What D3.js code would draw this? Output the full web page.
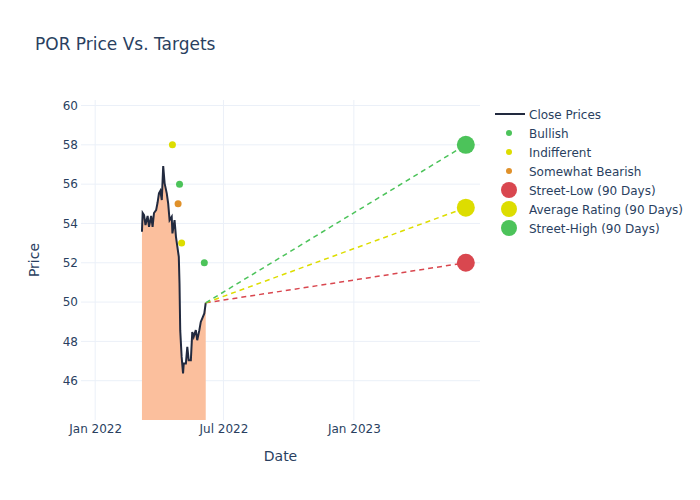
<!DOCTYPE html>
<html>
<head>
<meta charset="utf-8">
<script src="https://cdn.jsdelivr.net/npm/d3@7"></script>
<style>
  body { margin: 0; background: #fff; }
  text { font-family: "DejaVu Sans", verdana, arial, sans-serif; fill: #2a3f5f; }
</style>
</head>
<body>
<div id="chart"></div>
<script>
var width = 700;
var height = 500;
var margin = {left: 81, top: 100, right: 220, bottom: 80};

// close prices
var closeDates = ["2022-03-08","2022-03-09","2022-03-11","2022-03-13","2022-03-16","2022-03-18",
  "2022-03-21","2022-03-23","2022-03-25","2022-03-28","2022-03-30","2022-04-01","2022-04-03",
  "2022-04-05","2022-04-07","2022-04-09","2022-04-12","2022-04-14","2022-04-16","2022-04-19",
  "2022-04-20","2022-04-23","2022-04-25","2022-04-27","2022-04-29","2022-04-30","2022-05-01",
  "2022-05-03","2022-05-05","2022-05-06","2022-05-09","2022-05-11","2022-05-13","2022-05-16",
  "2022-05-18","2022-05-20","2022-05-23","2022-05-25","2022-05-28","2022-05-30","2022-06-02",
  "2022-06-04","2022-06-06"];
var closeValues = [53.58,54.54,54.43,53.92,54.38,53.83,
  54.38,53.83,54.53,54.68,55.05,55.53,55.66,
  55.19,56.92,56.04,55.53,55.02,54.17,54.34,
  53.49,54.17,53.32,52.81,52.30,50.95,48.57,
  47.21,46.37,46.88,46.88,47.72,47.04,47.04,
  48.48,48.23,48.57,48.06,48.57,48.99,49.25,
  49.42,49.96];

// analyst ratings
var ratingDates = ["2022-04-20","2022-04-30","2022-04-28","2022-05-03","2022-06-04"];
var ratingValues = [58, 56, 55, 53, 52];
var ratingTypes = ["Indifferent","Bullish","Somewhat Bearish","Indifferent","Bullish"];

// 90 day targets
var targetDate = "2023-06-08";
var targetNames = ["Street-Low (90 Days)","Average Rating (90 Days)","Street-High (90 Days)"];
var targetValues = [52, 54.8, 58];

var yTicks = [46, 48, 50, 52, 54, 56, 58, 60];
var xTicks = ["2022-01-01", "2022-07-01", "2023-01-01"];

var colors = {
  "Bullish": "#4cc35a",
  "Indifferent": "#dddd00",
  "Somewhat Bearish": "#e0912a",
  "Street-Low (90 Days)": "#d9474f",
  "Average Rating (90 Days)": "#dddd00",
  "Street-High (90 Days)": "#4cc35a"
};

var parse = d3.timeParse("%Y-%m-%d");
var closeData = closeDates.map(function(d, i) { return {x: parse(d), y: closeValues[i]}; });
var ratingData = ratingDates.map(function(d, i) { return {x: parse(d), y: ratingValues[i], t: ratingTypes[i]}; });
var lastClose = closeData[closeData.length - 1];

var svg = d3.select("#chart").append("svg")
  .attr("width", width)
  .attr("height", height);

var pw = width - margin.left - margin.right;
var ph = height - margin.top - margin.bottom;

var x = d3.scaleTime()
  .domain([parse("2021-12-12"), parse("2023-06-28")])
  .range([0, pw]);

var y = d3.scaleLinear()
  .domain([44.0, 60.28])
  .range([ph, 0]);

var g = svg.append("g")
  .attr("transform", "translate(" + margin.left + "," + margin.top + ")");

// grid
g.selectAll(".ygrid").data(yTicks).enter().append("line")
  .attr("x1", 0).attr("x2", pw)
  .attr("y1", function(d) { return y(d); }).attr("y2", function(d) { return y(d); })
  .attr("stroke", "#ebf0f8").attr("stroke-width", 1);

g.selectAll(".xgrid").data(xTicks).enter().append("line")
  .attr("y1", 0).attr("y2", ph)
  .attr("x1", function(d) { return x(parse(d)); }).attr("x2", function(d) { return x(parse(d)); })
  .attr("stroke", "#ebf0f8").attr("stroke-width", 1);

// fill under close
var area = d3.area()
  .x(function(d) { return x(d.x); })
  .y0(ph)
  .y1(function(d) { return y(d.y); });

g.append("path")
  .datum(closeData)
  .attr("d", area)
  .attr("fill", "#fbbf9d");

var line = d3.line()
  .x(function(d) { return x(d.x); })
  .y(function(d) { return y(d.y); });

g.append("path")
  .datum(closeData)
  .attr("d", line)
  .attr("fill", "none")
  .attr("stroke", "#222a3f")
  .attr("stroke-width", 2);

// dashed target lines
targetValues.forEach(function(v, i) {
  g.append("line")
    .attr("x1", x(lastClose.x)).attr("y1", y(lastClose.y))
    .attr("x2", x(parse(targetDate))).attr("y2", y(v))
    .attr("stroke", colors[targetNames[i]])
    .attr("stroke-width", 1.5)
    .attr("stroke-dasharray", "5,4");
});

// rating dots
g.selectAll(".rating").data(ratingData).enter().append("circle")
  .attr("cx", function(d) { return x(d.x); })
  .attr("cy", function(d) { return y(d.y); })
  .attr("r", 3.5)
  .attr("fill", function(d) { return colors[d.t]; });

// target markers
g.selectAll(".target").data(targetValues).enter().append("circle")
  .attr("cx", x(parse(targetDate)))
  .attr("cy", function(d) { return y(d); })
  .attr("r", 9)
  .attr("fill", function(d, i) { return colors[targetNames[i]]; });

// axes
var yAxis = d3.axisLeft(y).tickValues(yTicks).tickSize(0).tickPadding(3);
g.append("g").call(yAxis)
  .call(function(s) { s.select(".domain").remove(); })
  .selectAll("text").attr("font-size", 12).attr("fill", "#2a3f5f");

var xAxis = d3.axisBottom(x)
  .tickValues(xTicks.map(parse))
  .tickFormat(d3.timeFormat("%b %Y"))
  .tickSize(0).tickPadding(4);
g.append("g").attr("transform", "translate(0," + ph + ")").call(xAxis)
  .call(function(s) { s.select(".domain").remove(); })
  .selectAll("text").attr("font-size", 12).attr("fill", "#2a3f5f");

g.selectAll(".tick text").style("font-family", "\"DejaVu Sans\", verdana, arial, sans-serif");

// titles
svg.append("text")
  .attr("x", 35).attr("y", 50)
  .attr("font-size", 17)
  .text("POR Price Vs. Targets");

svg.append("text")
  .attr("x", margin.left + pw / 2).attr("y", 461)
  .attr("text-anchor", "middle")
  .attr("font-size", 14)
  .text("Date");

svg.append("text")
  .attr("transform", "translate(39," + (margin.top + ph / 2) + ") rotate(-90)")
  .attr("text-anchor", "middle")
  .attr("font-size", 14)
  .text("Price");

// legend
var legendItems = [{name: "Close Prices", kind: "line"},
  {name: "Bullish", kind: "dot"},
  {name: "Indifferent", kind: "dot"},
  {name: "Somewhat Bearish", kind: "dot"},
  {name: "Street-Low (90 Days)", kind: "big"},
  {name: "Average Rating (90 Days)", kind: "big"},
  {name: "Street-High (90 Days)", kind: "big"}];

var legend = svg.append("g").attr("transform", "translate(494,114)");
legendItems.forEach(function(d, i) {
  var row = legend.append("g").attr("transform", "translate(0," + (i * 19) + ")");
  if (d.kind === "line") {
    row.append("line").attr("x1", 1).attr("x2", 31).attr("y1", 0).attr("y2", 0)
      .attr("stroke", "#222a3f").attr("stroke-width", 2);
  } else {
    row.append("circle").attr("cx", 15).attr("cy", 0)
      .attr("r", d.kind === "dot" ? 3 : 8)
      .attr("fill", colors[d.name]);
  }
  row.append("text").attr("x", 35).attr("y", 4.5)
    .attr("font-size", 12)
    .text(d.name);
});
</script>
</body>
</html>
